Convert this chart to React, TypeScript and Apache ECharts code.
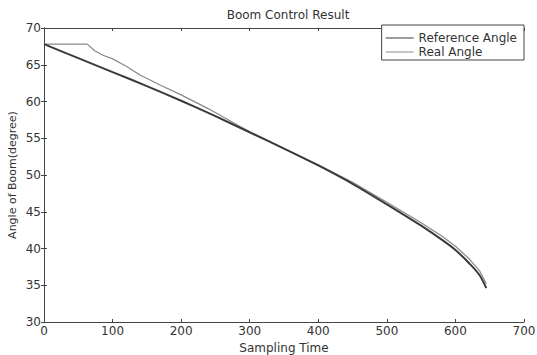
import React, { useEffect, useRef } from "react";
import * as echarts from "echarts";

const refTimes = [0, 50, 100, 150, 200, 250, 300, 350, 400, 450, 500, 550, 580, 600, 620, 635, 645];
const refValues = [67.8, 65.9, 64.0, 62.1, 60.1, 58.0, 55.8, 53.6, 51.3, 48.8, 46.0, 43.1, 41.2, 39.8, 38.0, 36.4, 34.6];

const realTimes = [0, 63, 74, 86, 100, 120, 140, 170, 200, 240, 286, 300, 350, 400, 450, 500, 550, 580, 600, 620, 635, 645];
const realValues = [67.8, 67.8, 66.9, 66.3, 65.8, 64.8, 63.6, 62.2, 60.9, 59.0, 56.6, 55.9, 53.6, 51.4, 49.0, 46.3, 43.5, 41.7, 40.3, 38.6, 37.0, 35.2];

const xTicks = [0, 100, 200, 300, 400, 500, 600, 700];
const yTicks = [30, 35, 40, 45, 50, 55, 60, 65, 70];

const FONT = "DejaVu Sans";

export default function App() {
  const ref = useRef<HTMLDivElement>(null);
  useEffect(() => {
    if (!ref.current) return;
    const chart = echarts.init(ref.current, undefined, { renderer: "svg" });
    const axisLine = { show: true, lineStyle: { color: "#444", width: 1 } };
    const tick = { show: true, inside: true, length: 3, lineStyle: { color: "#444" } };
    chart.setOption({
      animation: false,
      backgroundColor: "#fff",
      title: {
        text: "Boom Control Result",
        left: 283,
        top: 4,
        textAlign: "center",
        textStyle: { fontFamily: FONT, fontSize: 12, fontWeight: "normal", color: "#333" },
      },
      grid: { left: 44, right: 13, top: 28, bottom: 33, outerBoundsMode: "none", containLabel: false },
      legend: {
        right: 13,
        top: 25,
        orient: "vertical",
        itemGap: 2,
        itemWidth: 28,
        itemHeight: 14,
        padding: [7, 7, 2, 4],
        borderColor: "#444",
        borderWidth: 1,
        backgroundColor: "#fff",
        icon: "path://M0,7L28,7L28,8L0,8Z",
        textStyle: { fontFamily: FONT, fontSize: 12, color: "#333" },
        data: ["Reference Angle", "Real Angle"],
      },
      xAxis: [
        {
          type: "value",
          min: 0,
          max: 700,
          interval: 100,
          name: "Sampling Time",
          nameLocation: "middle",
          nameGap: 14,
          nameTextStyle: { fontFamily: FONT, fontSize: 12, color: "#333" },
          axisLine,
          axisTick: tick,
          splitLine: { show: false },
          axisLabel: { fontFamily: FONT, fontSize: 12, color: "#333", margin: 3 },
        },
        {
          type: "value",
          position: "top",
          min: 0,
          max: 700,
          interval: 100,
          axisLine,
          axisTick: tick,
          splitLine: { show: false },
          axisLabel: { show: false },
        },
      ],
      yAxis: [
        {
          type: "value",
          min: 30,
          max: 70,
          interval: 5,
          name: "Angle of Boom(degree)",
          nameLocation: "middle",
          nameGap: 26,
          nameMoveOverlap: false,
          nameTextStyle: { fontFamily: FONT, fontSize: 11, color: "#333" },
          axisLine,
          axisTick: tick,
          splitLine: { show: false },
          axisLabel: { fontFamily: FONT, fontSize: 12, color: "#333", margin: 3 },
        },
        {
          type: "value",
          position: "right",
          min: 30,
          max: 70,
          interval: 5,
          axisLine,
          axisTick: tick,
          splitLine: { show: false },
          axisLabel: { show: false },
        },
      ],
      series: [
        {
          name: "Reference Angle",
          type: "line",
          smooth: 0.3,
          symbol: "none",
          data: refTimes.map((t, i) => [t, refValues[i]]),
          lineStyle: { color: "#3a3a3a", width: 2 },
          itemStyle: { color: "#3a3a3a" },
          z: 3,
        },
        {
          name: "Real Angle",
          type: "line",
          symbol: "none",
          data: realTimes.map((t, i) => [t, realValues[i]]),
          lineStyle: { color: "#888", width: 1.2 },
          itemStyle: { color: "#888" },
          z: 2,
        },
      ],
    });
    return () => chart.dispose();
  }, []);
  return (
    <div
      ref={ref}
      style={{ position: "absolute", left: 0, top: 0, width: 537, height: 355 }}
    />
  );
}
